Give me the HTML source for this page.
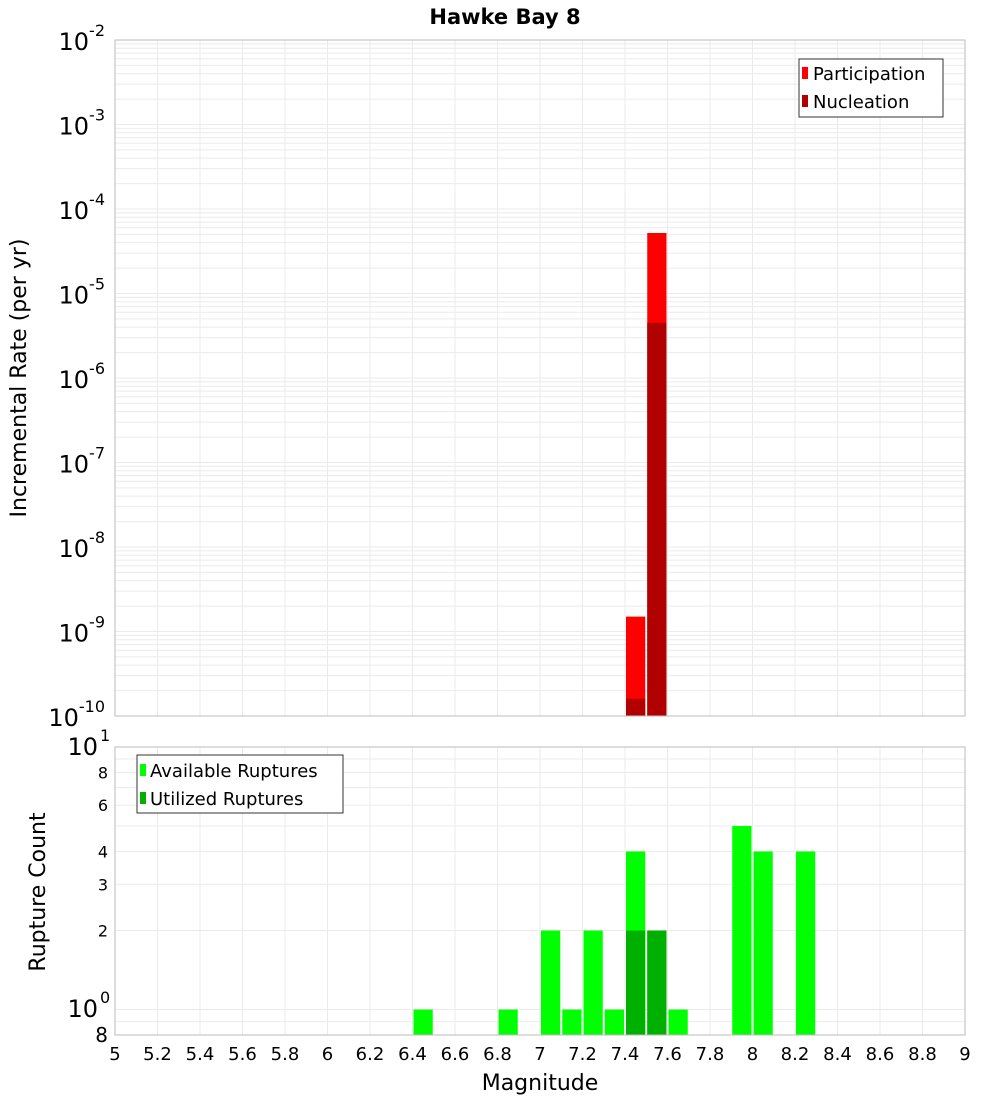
<!DOCTYPE html>
<html><head><meta charset="utf-8"><style>
html,body{margin:0;padding:0;background:#fff;}
svg{display:block;font-family:"DejaVu Sans","Liberation Sans",sans-serif;}
</style></head><body>
<svg id="chart" width="1000" height="1100" xmlns="http://www.w3.org/2000/svg">
<text x="505" y="24" font-size="21" font-weight="bold" text-anchor="middle">Hawke Bay 8</text>
<g id="topPlot"></g>
<g id="botPlot"></g>
<text transform="translate(26,378) rotate(-90)" font-size="22" text-anchor="middle">Incremental Rate (per yr)</text>
<text transform="translate(45,892) rotate(-90)" font-size="22" text-anchor="middle">Rupture Count</text>
<text x="540" y="1090" font-size="22" text-anchor="middle">Magnitude</text>
</svg>
<script>
const rateMags = [7.45, 7.55];
const participation = [1.5e-9, 5.2e-5];
const nucleation = [1.6e-10, 4.5e-6];
const countMags = [6.45, 6.85, 7.05, 7.15, 7.25, 7.35, 7.45, 7.55, 7.65, 7.95, 8.05, 8.25];
const available = [1, 1, 2, 1, 2, 1, 4, 2, 1, 5, 4, 4];
const utilMags = [7.45, 7.55];
const utilized = [2, 2];
const xTicks = [5,5.2,5.4,5.6,5.8,6,6.2,6.4,6.6,6.8,7,7.2,7.4,7.6,7.8,8,8.2,8.4,8.6,8.8,9];
const xTickLabels = ["5","5.2","5.4","5.6","5.8","6","6.2","6.4","6.6","6.8","7","7.2","7.4","7.6","7.8","8","8.2","8.4","8.6","8.8","9"];
const rateExps = [-2,-3,-4,-5,-6,-7,-8,-9,-10];
const countTicks = [8,6,4,3,2];
const binWidth = 0.1;

const NS="http://www.w3.org/2000/svg";
const L=115,R=965;
const x=m=>L+(m-5)/4*(R-L);
const T1=40,B1=716;
const yR=v=>T1+(-2-Math.log10(v))/8*(B1-T1);
const T2=747,B2=1035;
const lmin=Math.log10(0.8),lmax=1;
const yC=v=>B2-(Math.log10(v)-lmin)/(lmax-lmin)*(B2-T2);
function mk(tag,attrs,parent,txt){const e=document.createElementNS(NS,tag);for(const k in attrs)e.setAttribute(k,attrs[k]);if(txt!==undefined)e.textContent=txt;parent.appendChild(e);return e;}
const topG=document.getElementById('topPlot'),botG=document.getElementById('botPlot');

for(let e=-10;e<-2;e++)for(let k=1;k<10;k++){const v=k*Math.pow(10,e);const yy=yR(v);
 const g=mk('line',{x1:L,x2:R,y1:yy,y2:yy,stroke:'#ebebeb','stroke-width':1},topG);
 
 }
xTicks.forEach(t=>{const g=mk('line',{x1:x(t),x2:x(t),y1:T1,y2:B1,stroke:'#ebebeb'},topG);
 
 
 const g2=mk('line',{x1:x(t),x2:x(t),y1:T2,y2:B2,stroke:'#ebebeb'},botG);
 
 });
rateMags.forEach((m,i)=>{
 const x0=x(m-binWidth/2)+1,w=x(m+binWidth/2)-x(m-binWidth/2)-2;
 const p=mk('rect',{x:x0,y:yR(participation[i]),width:w,height:B1-yR(participation[i]),fill:'#ff0000'},topG);
 
 
 const n=mk('rect',{x:x0,y:yR(nucleation[i]),width:w,height:B1-yR(nucleation[i]),fill:'#b00000'},topG);
 
 });
const f1=mk('rect',{x:L,y:T1,width:R-L,height:B1-T1,fill:'none',stroke:'#bbb'},topG);


rateExps.forEach(e=>{const yy=yR(Math.pow(10,e));
 const t=mk('text',{x:105,y:yy+10,'font-size':24,'text-anchor':'end'},topG);
 
 
 t.appendChild(document.createTextNode('10'));
 mk('tspan',{dy:-14,'font-size':16},t,String(e));});
const lg=mk('g',{},topG);


mk('rect',{x:799,y:59,width:144,height:58,fill:'#fff',stroke:'#333'},lg);
mk('rect',{x:802,y:67,width:6,height:12,fill:'#ff0000'},lg);
mk('text',{x:813,y:80,'font-size':18},lg,'Participation');
mk('rect',{x:802,y:95,width:6,height:12,fill:'#b00000'},lg);
mk('text',{x:813,y:108,'font-size':18},lg,'Nucleation');

[0.8,0.9,1,2,3,4,5,6,7,8,9,10].forEach(v=>{const g=mk('line',{x1:L,x2:R,y1:yC(v),y2:yC(v),stroke:'#ebebeb'},botG);
 
 });
countMags.forEach((m,i)=>{const x0=x(m-binWidth/2)+1,w=x(m+binWidth/2)-x(m-binWidth/2)-2;
 const r=mk('rect',{x:x0,y:yC(available[i]),width:w,height:B2-yC(available[i]),fill:'#00ff00'},botG);
 
 });
utilMags.forEach((m,i)=>{const x0=x(m-binWidth/2)+1,w=x(m+binWidth/2)-x(m-binWidth/2)-2;
 const r=mk('rect',{x:x0,y:yC(utilized[i]),width:w,height:B2-yC(utilized[i]),fill:'#00b000'},botG);
 
 });
const f2=mk('rect',{x:L,y:T2,width:R-L,height:B2-T2,fill:'none',stroke:'#bbb'},botG);


countTicks.forEach(v=>{const t=mk('text',{x:108,y:yC(v)+6,'font-size':16,'text-anchor':'end'},botG,String(v));
 
 });
[[1017,'0'],[755,'1']].forEach(([yy,e])=>{const t=mk('text',{x:98,y:yy,'font-size':24,'text-anchor':'end'},botG,'10');
 
 
 const s=mk('text',{x:100,y:yy-14,'font-size':16},botG,e);
 
 });
const t8=mk('text',{x:108,y:1042,'font-size':20,'text-anchor':'end'},botG,'8');


xTicks.forEach((t,i)=>{const e=mk('text',{x:x(t),y:1060,'font-size':18,'text-anchor':'middle'},botG,xTickLabels[i]);
 
 });
const lg2=mk('g',{},botG);


mk('rect',{x:137,y:755,width:206,height:58,fill:'#fff',stroke:'#333'},lg2);
mk('rect',{x:140,y:764,width:6,height:12,fill:'#00ff00'},lg2);
mk('text',{x:150,y:777,'font-size':18},lg2,'Available Ruptures');
mk('rect',{x:140,y:792,width:6,height:12,fill:'#00b000'},lg2);
mk('text',{x:150,y:805,'font-size':18},lg2,'Utilized Ruptures');
</script>
</body></html>
